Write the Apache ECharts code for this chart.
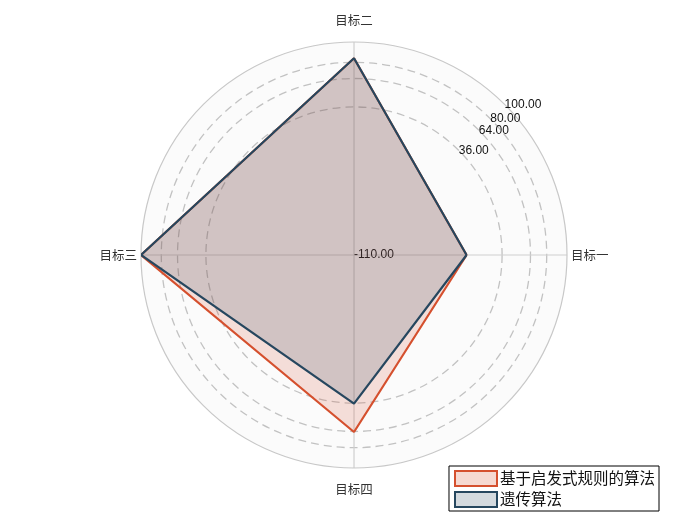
<!DOCTYPE html>
<html>
<head>
<meta charset="utf-8">
<script src="https://cdn.jsdelivr.net/npm/echarts@6/dist/echarts.min.js"></script>
<style>
  html, body { margin: 0; padding: 0; background: #fff; }
  #main { width: 684px; height: 527px; }
</style>
</head>
<body>
<div id="main"></div>
<script>
// indicators, counter-clockwise from the right
var categories = ['目标一', '目标二', '目标三', '目标四'];
var seriesNames = ['基于启发式规则的算法', '遗传算法'];
var heuristic = [1, 84, 100, 64.5];
var genetic = [1, 84, 100, 36.5];
var radiusMin = -110;
var radiusMax = 100;
var gridValues = [36, 64, 80];
var labelValues = [-110, 36, 64, 80, 100];

var cjk = '"Noto Sans CJK SC", sans-serif';
var orange = '#d5502e';
var blue = '#26475f';
var step = 360 / categories.length;

// [radius, angle] points, closed by going back to the first indicator
function closed(values) {
  var pts = values.map(function (v, i) { return [v, i * step]; });
  pts.push([values[0], 360]);
  return pts;
}

var chart = echarts.init(document.getElementById('main'));
chart.setOption({
  animation: false,
  legend: {
    orient: 'vertical',
    right: 25,
    bottom: 16,
    icon: 'rect',
    itemWidth: 42,
    itemHeight: 15,
    itemGap: 4,
    padding: [4, 4, 3, 5],
    borderColor: '#000',
    borderWidth: 1,
    borderRadius: 0,
    textStyle: { fontSize: 15.5, color: '#111', fontFamily: cjk, padding: [0, 0, 0, -2] },
    data: [
      { name: seriesNames[0], itemStyle: { color: 'rgba(213,80,46,0.22)', borderColor: orange, borderWidth: 2 } },
      { name: seriesNames[1], itemStyle: { color: 'rgba(38,71,95,0.2)', borderColor: blue, borderWidth: 2 } }
    ]
  },
  polar: [
    { center: [354, 255], radius: 213 },
    { center: [354, 255], radius: 213 }
  ],
  angleAxis: [{
    polarIndex: 0,
    type: 'value',
    min: 0,
    max: 360,
    interval: step,
    startAngle: 0,
    clockwise: false,
    axisLine: { lineStyle: { color: '#c8c8c8', width: 1.2 } },
    axisTick: { show: false },
    axisLabel: {
      margin: 4,
      lineHeight: 35,
      fontSize: 12.5,
      color: '#333',
      fontFamily: cjk,
      formatter: function (v) {
        return v >= 360 ? '' : categories[Math.round(v / step)];
      }
    },
    splitLine: { show: true, lineStyle: { color: '#cfcfcf', width: 1.2 } }
  }, {
    // only paints the pale disc behind everything
    polarIndex: 1,
    type: 'value',
    min: 0,
    max: 360,
    startAngle: 45,
    z: -1,
    axisLine: { show: false },
    axisTick: { show: false },
    axisLabel: { show: false },
    splitLine: { show: false },
    splitArea: { show: true, areaStyle: { color: ['#fbfbfb'] } }
  }],
  radiusAxis: [{
    polarIndex: 0,
    type: 'value',
    min: radiusMin,
    max: radiusMax,
    axisLine: { show: false },
    axisLabel: { show: false },
    axisTick: { show: false, customValues: gridValues },
    splitLine: { show: true, lineStyle: { color: '#c2c2c2', width: 1.3, type: [8, 5] } }
  }, {
    polarIndex: 1,
    type: 'value',
    min: radiusMin,
    max: radiusMax,
    axisLine: { show: false },
    axisTick: { show: false },
    splitLine: { show: false },
    axisLabel: {
      customValues: labelValues,
      margin: 0,
      rotate: 0,
      align: 'left',
      verticalAlign: 'middle',
      fontSize: 12,
      color: '#111',
      fontFamily: 'Liberation Sans, Arial, sans-serif',
      formatter: function (v) { return v.toFixed(2); }
    }
  }],
  series: [{
    name: seriesNames[0],
    type: 'line',
    coordinateSystem: 'polar',
    polarIndex: 0,
    data: closed(heuristic),
    symbol: 'none',
    clip: false,
    itemStyle: { color: orange },
    lineStyle: { color: orange, width: 2.2 },
    areaStyle: { color: 'rgba(213,80,46,0.24)', origin: 'start' }
  }, {
    name: seriesNames[1],
    type: 'line',
    coordinateSystem: 'polar',
    polarIndex: 0,
    data: closed(genetic),
    symbol: 'none',
    clip: false,
    itemStyle: { color: blue },
    lineStyle: { color: blue, width: 2.2 },
    areaStyle: { color: 'rgba(38,71,95,0.24)', origin: 'start' }
  }]
});
</script>
</body>
</html>
